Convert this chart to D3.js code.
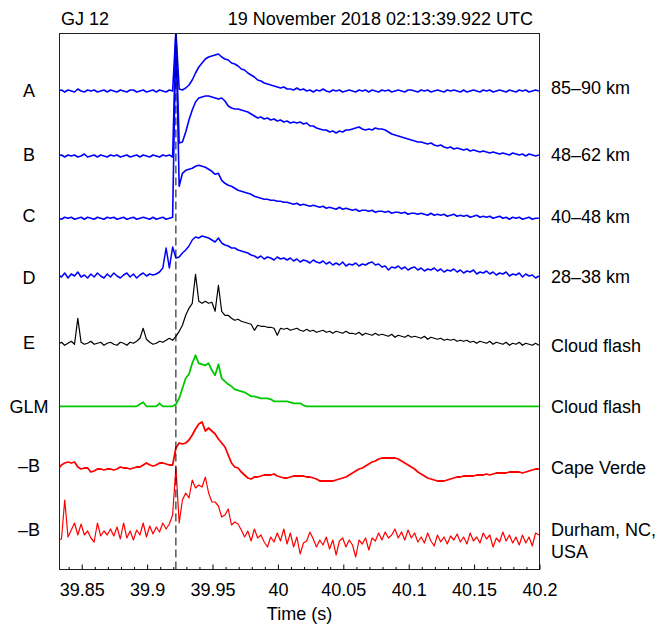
<!DOCTYPE html>
<html><head><meta charset="utf-8">
<script src="https://cdn.jsdelivr.net/npm/d3@7"></script>
<style>
html,body{margin:0;padding:0;background:#fff;}
svg text{font-family:"Liberation Sans",Arial,Helvetica,sans-serif;fill:#000;}
</style></head>
<body>
<svg id="chart" width="661" height="625"></svg>
<script>
// ---------------- DATA ----------------
const titleLeft = "GJ 12";
const titleRight = "19 November 2018 02:13:39.922 UTC";
const xLabel = "Time (s)";
const xDomain = [39.833, 40.2];
const majorTicks = [39.85, 39.9, 39.95, 40, 40.05, 40.1, 40.15, 40.2];
const majorTickLabels = ["39.85", "39.9", "39.95", "40", "40.05", "40.1", "40.15", "40.2"];
const minorTicks = [39.84,39.86,39.87,39.88,39.89,39.91,39.92,39.93,39.94,39.96,39.97,39.98,39.99,40.01,40.02,40.03,40.04,40.06,40.07,40.08,40.09,40.11,40.12,40.13,40.14,40.16,40.17,40.18,40.19];
const onsetTime = 39.922;
const sampleStart = 39.832;   // time of first sample (s)
const sampleStep = 0.0025;    // sample spacing (s)

const traceNames = ["A", "B", "C", "D", "E", "GLM", "–B", "–B"];
const traceRightLabels = [["85–90 km"], ["48–62 km"], ["40–48 km"], ["28–38 km"], ["Cloud flash"], ["Cloud flash"], ["Cape Verde"], ["Durham, NC,", "USA"]];

// amplitudes (arbitrary units, positive = up)
const seriesA = [
  0,1,-1,1,0,-1,2,0,-1,1,
  0,1,-1,0,1,-1,1,0,-1,1,
  0,-1,1,1,-1,0,1,-1,0,1,
  -1,1,0,-1,1,0,60,2,1,3,
  6,11,18,24,28,32,34,35,36,37,
  34,32,31,28,27,25,22,21,18,16,
  14,11,10,8,7,6,5,4,3,4,
  2,2,1,3,1,2,0,1,-1,1,
  0,2,0,-1,1,0,1,-1,0,1,
  0,-1,1,0,1,-1,1,0,-1,1,
  0,1,-1,0,1,0,-1,1,1,0,
  -1,1,0,1,-1,0,1,0,-1,1,
  0,1,0,-1,1,-1,0,1,0,-1,
  1,0,1,-1,0,1,0,-1,1,0,
  -1,1,0,1,-1,0,1,0];
const seriesB = [
  0,1,-1,1,0,1,-1,0,2,-1,
  0,1,-1,1,0,-1,1,0,1,-1,
  0,1,-1,0,1,-1,1,0,-1,1,
  0,-1,1,0,1,-1,125,13,14,24,
  36,46,54,58,59,60,60,59,58,57,
  58,55,50,48,47,47,46,45,44,42,
  40,38,39,37,38,36,37,35,36,34,
  35,33,34,33,34,32,33,30,30,28,
  27,26,26,24,25,23,25,24,26,26,
  27,28,29,27,26,27,26,28,27,27,
  26,24,22,21,20,19,18,17,16,15,
  14,14,13,12,13,11,10,11,9,8,
  9,7,8,7,6,7,5,6,5,4,
  5,4,3,4,3,2,3,2,1,3,
  2,1,2,0,2,1,0,1];
const seriesC = [
  0,-1,1,0,1,-1,0,1,-1,1,
  0,-1,1,0,-1,1,0,1,-1,0,
  1,-1,0,1,-1,0,1,0,-1,1,
  -1,0,1,-1,0,1,188,32,45,48,
  49,50,52,53,52,51,49,47,44,45,
  38,35,33,32,30,28,27,26,25,24,
  22,21,20,19,19,18,18,17,17,16,
  16,15,14,15,13,14,13,12,13,12,
  11,12,10,11,10,9,11,9,10,9,
  8,9,7,8,8,7,8,6,7,7,
  6,7,5,6,6,5,6,4,5,5,
  4,5,4,3,5,3,4,3,4,2,
  3,4,2,3,2,3,1,2,3,1,
  2,1,2,0,1,2,0,1,-1,1,
  0,1,-1,0,1,-1,0,0];
const seriesD = [
  0,-2,2,-3,1,-1,3,-2,0,-3,
  1,-2,2,-1,-3,1,-2,2,-1,-3,
  0,2,-2,1,-3,0,2,-1,1,0,
  1,3,7,27,7,28,17,18,22,25,
  29,35,38,37,39,38,37,35,33,37,
  32,30,29,27,27,25,24,23,22,20,
  19,17,19,16,18,17,15,18,16,17,
  15,17,14,16,13,15,14,12,15,13,
  12,14,11,13,10,12,10,13,9,11,
  10,12,9,11,10,12,13,10,11,8,
  9,5,8,7,9,6,8,5,7,8,
  5,7,4,6,5,7,4,6,3,5,
  4,6,3,5,2,4,3,5,1,3,
  2,4,1,3,0,2,1,3,-1,1,
  0,2,-2,1,-1,0,-3,-1];
const seriesE = [
  -1,1,-2,0,2,-1,25,1,-1,0,
  2,-1,0,1,-2,0,1,-1,-2,1,
  0,-2,1,0,2,5,15,4,1,-1,
  0,2,1,3,5,3,7,12,18,28,
  35,40,69,42,40,42,40,41,32,58,
  32,28,28,25,23,24,22,21,20,19,
  13,18,17,17,16,16,15,8,15,14,
  15,13,14,15,13,12,14,12,13,11,
  12,13,11,12,10,12,11,10,12,10,
  10,9,11,8,10,9,8,10,8,9,
  8,7,9,6,8,7,6,8,6,7,
  6,5,7,4,6,5,4,5,3,4,
  3,4,2,3,2,3,1,2,0,2,
  1,0,2,-1,1,0,-1,1,-2,0,
  -1,1,-2,0,-1,-2,0,-2];
const seriesGLM = [
  0,0,0,0,0,0,0,0,0,0,
  0,0,0,0,0,0,0,0,0,0,
  0,0,0,0,0,2,4,0,0,0,
  0,3,0,0,0,0,2,8,18,28,
  32,43,51,43,42,41,43,36,31,42,
  28,25,22,20,17,16,15,14,12,10,
  10,9,8,8,8,7,5,5,5,5,
  5,4,3,3,3,1,0,0,0,0,
  0,0,0,0,0,0,0,0,0,0,
  0,0,0,0,0,0,0,0,0,0,
  0,0,0,0,0,0,0,0,0,0,
  0,0,0,0,0,0,0,0,0,0,
  0,0,0,0,0,0,0,0,0,0,
  0,0,0,0,0,0,0,0,0,0,
  0,0,0,0,0,0,0,0];
const seriesCapeVerde = [
  -4,0,2,3,2,3,-2,-4,-3,-3,
  -7,-6,-4,-4,-5,-4,-4,-5,-4,-2,
  -3,-3,-4,-3,-2,-2,0,2,0,-1,
  0,2,2,1,0,0,17,22,21,22,
  25,30,36,41,43,34,37,34,31,26,
  22,18,10,2,-2,-3,-7,-10,-13,-14,
  -12,-12,-11,-10,-10,-10,-9,-11,-12,-13,
  -13,-12,-11,-11,-11,-11,-12,-12,-13,-14,
  -16,-16,-16,-16,-16,-15,-14,-13,-12,-10,
  -8,-6,-4,-3,-1,1,3,4,6,7,
  7,7,7,7,6,4,2,0,-2,-4,
  -7,-9,-11,-13,-14,-15,-16,-16,-16,-15,
  -14,-13,-12,-12,-11,-11,-11,-11,-10,-10,
  -10,-9,-10,-9,-8,-8,-8,-8,-7,-7,
  -7,-7,-8,-7,-6,-5,-4,-4];
const seriesDurham = [
  -5,-4,35,-2,5,12,0,11,0,4,
  -3,-7,12,-1,4,0,6,-1,8,-4,
  12,-3,4,-5,5,0,12,-2,9,1,
  8,3,12,6,11,20,68,12,35,42,
  37,55,47,50,48,58,42,33,33,29,
  18,20,26,10,13,11,5,-2,4,-6,
  6,-3,0,-7,-12,-2,-7,2,-6,6,
  -9,2,-12,-2,-19,-8,-6,3,-4,-12,
  -5,-10,-2,-14,-5,-20,-6,-3,-12,-5,
  -10,-22,-5,-9,-3,-15,-3,-6,2,-5,
  3,-3,0,6,-3,3,-5,5,-3,2,
  -7,-2,-8,2,-6,-11,0,-7,-2,-9,
  -1,-5,1,-7,-2,-9,2,-6,-2,-8,
  2,-4,0,-12,-3,-7,3,-6,0,-8,
  -2,-10,0,-8,-2,-11,2,0];

// ---------------- LAYOUT / STYLE ----------------
const plot = {left: 59.5, right: 539.5, top: 33.5, bottom: 569.5};
const rowBaseY = [91, 156, 218.3, 275, 343.3, 406.3, 465, 535];
const leftLabelY = [91, 155, 216, 278, 343, 407, 466, 530];
const rightLabelY = [88, 155, 217, 277, 346, 407, 468, 530];
const traceColors = ["#0000ff", "#0000ff", "#0000ff", "#0000ff", "#000000", "#00c800", "#ff0000", "#ff0000"];
const traceWidths = [1.6, 1.6, 1.6, 1.5, 1.2, 1.8, 1.8, 1.2];
const FONT = 18;

const allSeries = [seriesA, seriesB, seriesC, seriesD, seriesE, seriesGLM, seriesCapeVerde, seriesDurham];

const svg = d3.select("#chart");
const x = d3.scaleLinear().domain(xDomain).range([plot.left, plot.right]);
const amp = d3.scaleLinear().domain([0, 100]).range([0, -100]);

svg.append("defs").append("clipPath").attr("id", "plotclip")
  .append("rect").attr("x", plot.left).attr("y", plot.top)
  .attr("width", plot.right - plot.left).attr("height", plot.bottom - plot.top);

const gTraces = svg.append("g").attr("clip-path", "url(#plotclip)");

allSeries.forEach((vals, k) => {
  const line = d3.line()
    .x((d, i) => x(sampleStart + i * sampleStep))
    .y(d => amp(d));
  gTraces.append("g").attr("transform", `translate(0,${rowBaseY[k]})`)
    .append("path").datum(vals)
    .attr("d", line)
    .attr("fill", "none")
    .attr("stroke", traceColors[k])
    .attr("stroke-width", traceWidths[k])
    .attr("stroke-linejoin", "round");
});

// onset dashed line
svg.append("line")
  .attr("x1", x(onsetTime)).attr("x2", x(onsetTime))
  .attr("y1", plot.top).attr("y2", plot.bottom)
  .attr("stroke", "#000").attr("stroke-width", 1)
  .attr("stroke-dasharray", "8,4");

// frame
svg.append("rect")
  .attr("x", plot.left).attr("y", plot.top)
  .attr("width", plot.right - plot.left).attr("height", plot.bottom - plot.top)
  .attr("fill", "none").attr("stroke", "#222").attr("stroke-width", 1);

// axes (ticks pointing inward)
const axMajor = d3.axisBottom(x).tickValues(majorTicks)
  .tickSizeInner(-5).tickSizeOuter(0).tickPadding(14)
  .tickFormat((d, i) => majorTickLabels[i]);
const gx = svg.append("g").attr("transform", `translate(0,${plot.bottom})`).call(axMajor);
gx.select(".domain").remove();
gx.selectAll("text").style("font-size", FONT + "px").attr("fill", "#000")
  .style("font-family", '"Liberation Sans",Arial,Helvetica,sans-serif');
gx.selectAll("line").attr("stroke", "#000");

const axMinor = d3.axisBottom(x).tickValues(minorTicks)
  .tickSizeInner(-2.5).tickSizeOuter(0).tickFormat("");
const gm = svg.append("g").attr("transform", `translate(0,${plot.bottom})`).call(axMinor);
gm.select(".domain").remove();
gm.selectAll("line").attr("stroke", "#000");

// x label
svg.append("text").attr("x", (plot.left + plot.right) / 2).attr("y", 620)
  .attr("text-anchor", "middle").style("font-size", FONT + "px").text(xLabel);

// header
svg.append("text").attr("x", 61).attr("y", 25).style("font-size", FONT + "px").text(titleLeft);
svg.append("text").attr("x", 533).attr("y", 25).attr("text-anchor", "end")
  .style("font-size", FONT + "px").text(titleRight);

// left labels
traceNames.forEach((t, k) => {
  svg.append("text").attr("x", 29).attr("y", leftLabelY[k])
    .attr("dy", "0.35em").attr("text-anchor", "middle")
    .style("font-size", FONT + "px").text(t);
});

// right labels
traceRightLabels.forEach((lines, k) => {
  lines.forEach((s, j) => {
    svg.append("text").attr("x", 551).attr("y", rightLabelY[k] + j * 22)
      .attr("dy", "0.35em").style("font-size", FONT + "px").text(s);
  });
});
</script>
</body></html>
